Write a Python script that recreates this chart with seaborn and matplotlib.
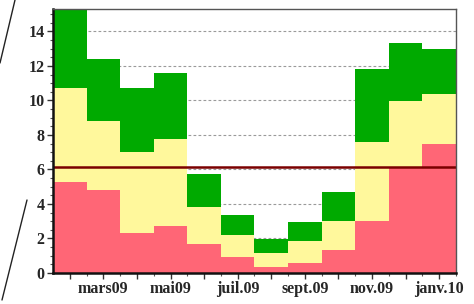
import numpy as np
import pandas as pd
import matplotlib
matplotlib.use("Agg")
import matplotlib.pyplot as plt
import seaborn as sns
from matplotlib.ticker import MultipleLocator, FixedLocator
from matplotlib.lines import Line2D

# monthly levels (stacked bands: red bottom, yellow middle, green top)
months = ["févr09", "mars09", "avr09", "mai09", "juin09", "juil.09",
          "août09", "sept.09", "oct.09", "nov.09", "déc.09", "janv.10"]
red_top = [5.3, 4.8, 2.3, 2.75, 1.7, 0.9, 0.35, 0.6, 1.35, 3.0, 6.1, 7.45]
yellow_top = [10.75, 8.8, 7.0, 7.75, 3.8, 2.2, 1.15, 1.85, 3.0, 7.6, 9.95, 10.35]
green_top = [15.6, 12.4, 10.75, 11.6, 5.75, 3.35, 1.95, 2.95, 4.7, 11.8, 13.35, 13.0]
threshold = 6.15
shown_labels = ["mars09", "mai09", "juil.09", "sept.09", "nov.09", "janv.10"]

df = pd.DataFrame({"month": months, "red": red_top,
                   "yellow": yellow_top, "green": green_top})

sns.set_style("white")
plt.rcParams["font.family"] = ["Liberation Serif", "DejaVu Serif"]

fig = plt.figure(figsize=(4.74, 3.04), dpi=100)
ax = fig.add_axes([53 / 474, 1 - 273 / 304, 403 / 474, 264 / 304])

# dashed grid behind the bands
for yv in range(2, 16, 2):
    ax.axhline(yv, color="#9a9a9a", lw=0.8, ls=(0, (2.5, 2)), zorder=0)

sns.barplot(data=df, x="month", y="green", color="#00aa00", width=1.0,
            saturation=1, linewidth=0, ax=ax, zorder=2)
sns.barplot(data=df, x="month", y="yellow", color="#fff89c", width=1.0,
            saturation=1, linewidth=0, ax=ax, zorder=3)
sns.barplot(data=df, x="month", y="red", color="#ff6676", width=1.0,
            saturation=1, linewidth=0, ax=ax, zorder=4)

ax.axhline(threshold, color="#7a0000", lw=1.8, zorder=5)

ax.set_xlim(-0.5, len(months) - 0.5)
ax.set_ylim(0, 15.3)
ax.set_xlabel("")
ax.set_ylabel("")

ax.set_xticks(range(len(months)))
ax.set_xticklabels([m if m in shown_labels else "" for m in months],
                   fontsize=11.5, fontweight="bold")
ax.xaxis.set_minor_locator(FixedLocator(np.arange(0, len(months), 0.5)))
ax.yaxis.set_major_locator(MultipleLocator(2))
ax.yaxis.set_minor_locator(MultipleLocator(0.5))
for lab in ax.get_yticklabels():
    lab.set_fontsize(11.5)
    lab.set_fontweight("bold")

ax.tick_params(axis="both", which="major", direction="out", length=4,
               width=1, color="#333333", pad=2, bottom=True, left=True)
ax.tick_params(axis="both", which="minor", direction="out", length=2,
               width=0.8, color="#555555", left=True, bottom=True)

for side in ["left", "bottom"]:
    ax.spines[side].set_color("#111111")
    ax.spines[side].set_linewidth(1.8)
for side in ["top", "right"]:
    ax.spines[side].set_color("#555555")
    ax.spines[side].set_linewidth(1.0)
    ax.spines[side].set_visible(True)
for sp in ax.spines.values():
    sp.set_zorder(6)

# callout strokes on the left edge
fig.add_artist(Line2D([15 / 474, 0], [1, 1 - 63 / 304], color="#222222", lw=1.0))
fig.add_artist(Line2D([27 / 474, 2 / 474], [1 - 200 / 304, 1 - 300 / 304],
                      color="#222222", lw=1.0))

fig.savefig("out.png", dpi=100, facecolor="white")
